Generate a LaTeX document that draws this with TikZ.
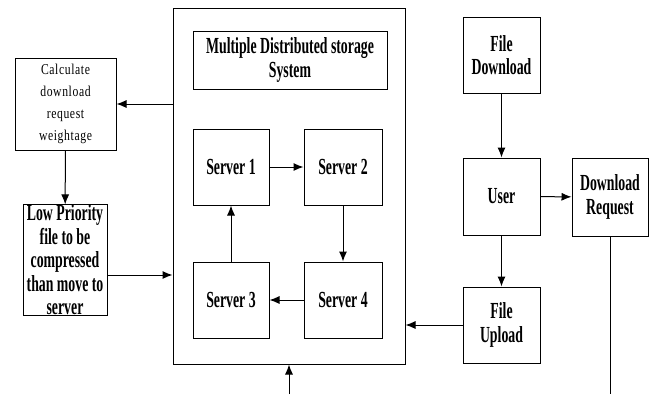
\documentclass[tikz,border=0pt]{standalone}
\usepackage{fontspec}
\setmainfont[FakeStretch=0.6]{Liberation Serif}
\newfontfamily\calcfont[FakeStretch=0.78, LetterSpace=4]{Liberation Serif}
\usetikzlibrary{arrows.meta}
\usetikzlibrary{positioning}

\tikzset{
  blk/.style={draw, line width=1pt, inner sep=0pt, align=center,
    font=\bfseries\fontsize{23}{23.5}\selectfont},
  thinblk/.style={blk, font=\calcfont\fontsize{15}{22}\selectfont},
  flow/.style={-{Latex[length=10pt, width=8pt]}, line width=1pt},
}

\begin{document}
\begin{tikzpicture}[x=1pt, y=-1pt]
    \useasboundingbox (0, 0) rectangle (652, 394);

    % storage system with its servers
    \node [blk, minimum width=232pt, minimum height=356pt] (store) at (289, 186) {};
    \node [blk, minimum width=194pt, minimum height=58pt] (title) at (290, 60)
      {Multiple Distributed storage\\System};
    \node [blk, minimum width=76pt, minimum height=76pt] (srv1) at (231, 167) {Server 1};
    \node [blk, minimum width=78pt, minimum height=76pt] (srv2) at (343, 167) {Server 2};
    \node [blk, minimum width=76pt, minimum height=76pt] (srv3) at (231, 300) {Server 3};
    \node [blk, minimum width=78pt, minimum height=76pt] (srv4) at (343, 300) {Server 4};

    % left column
    \node [thinblk, minimum width=101pt, minimum height=92pt] (calc) at (65.5, 104)
      {Calculate\\download\\request\\weightage};
    \node [blk, minimum width=84pt, minimum height=106pt] (low) at (65, 260)
      {Low Priority\\file to be\\compressed\\than move to\\server};

    % right column
    \node [blk, minimum width=77pt, minimum height=76pt] (down) at (501.5, 55) {File\\Download};
    \node [blk, minimum width=77pt, minimum height=77pt] (user) at (501.5, 196.5) {User};
    \node [blk, minimum width=76pt, minimum height=78pt] (req) at (610, 197) {Download\\Request};
    \node [blk, minimum width=77pt, minimum height=76pt] (up) at (501.5, 325) {File\\Upload};

    \coordinate (lowout) at ([yshift=-15pt]low.east);
    \coordinate (feed) at (289, 394);
    \coordinate (reqend) at (610, 394);

    \draw [flow] (srv1) -- (srv2);
    \draw [flow] (srv2) -- (srv4);
    \draw [flow] (srv4) -- (srv3);
    \draw [flow] (srv3) -- (srv1);

    \draw [flow] (store.west |- calc.east) -- (calc.east);
    \draw [flow] (calc) -- (low);
    \draw [flow] (lowout) -- (store.west |- lowout);

    \draw [flow] (down) -- (user);
    \draw [flow] (user) -- (req);
    \draw [flow] (user) -- (up);
    \draw [flow] (up.west) -- (store.east |- up.west);

    \draw [flow] (feed) -- (store.south);
    \draw [line width=1pt] (req.south) -- (reqend);
  \end{tikzpicture}
\end{document}
